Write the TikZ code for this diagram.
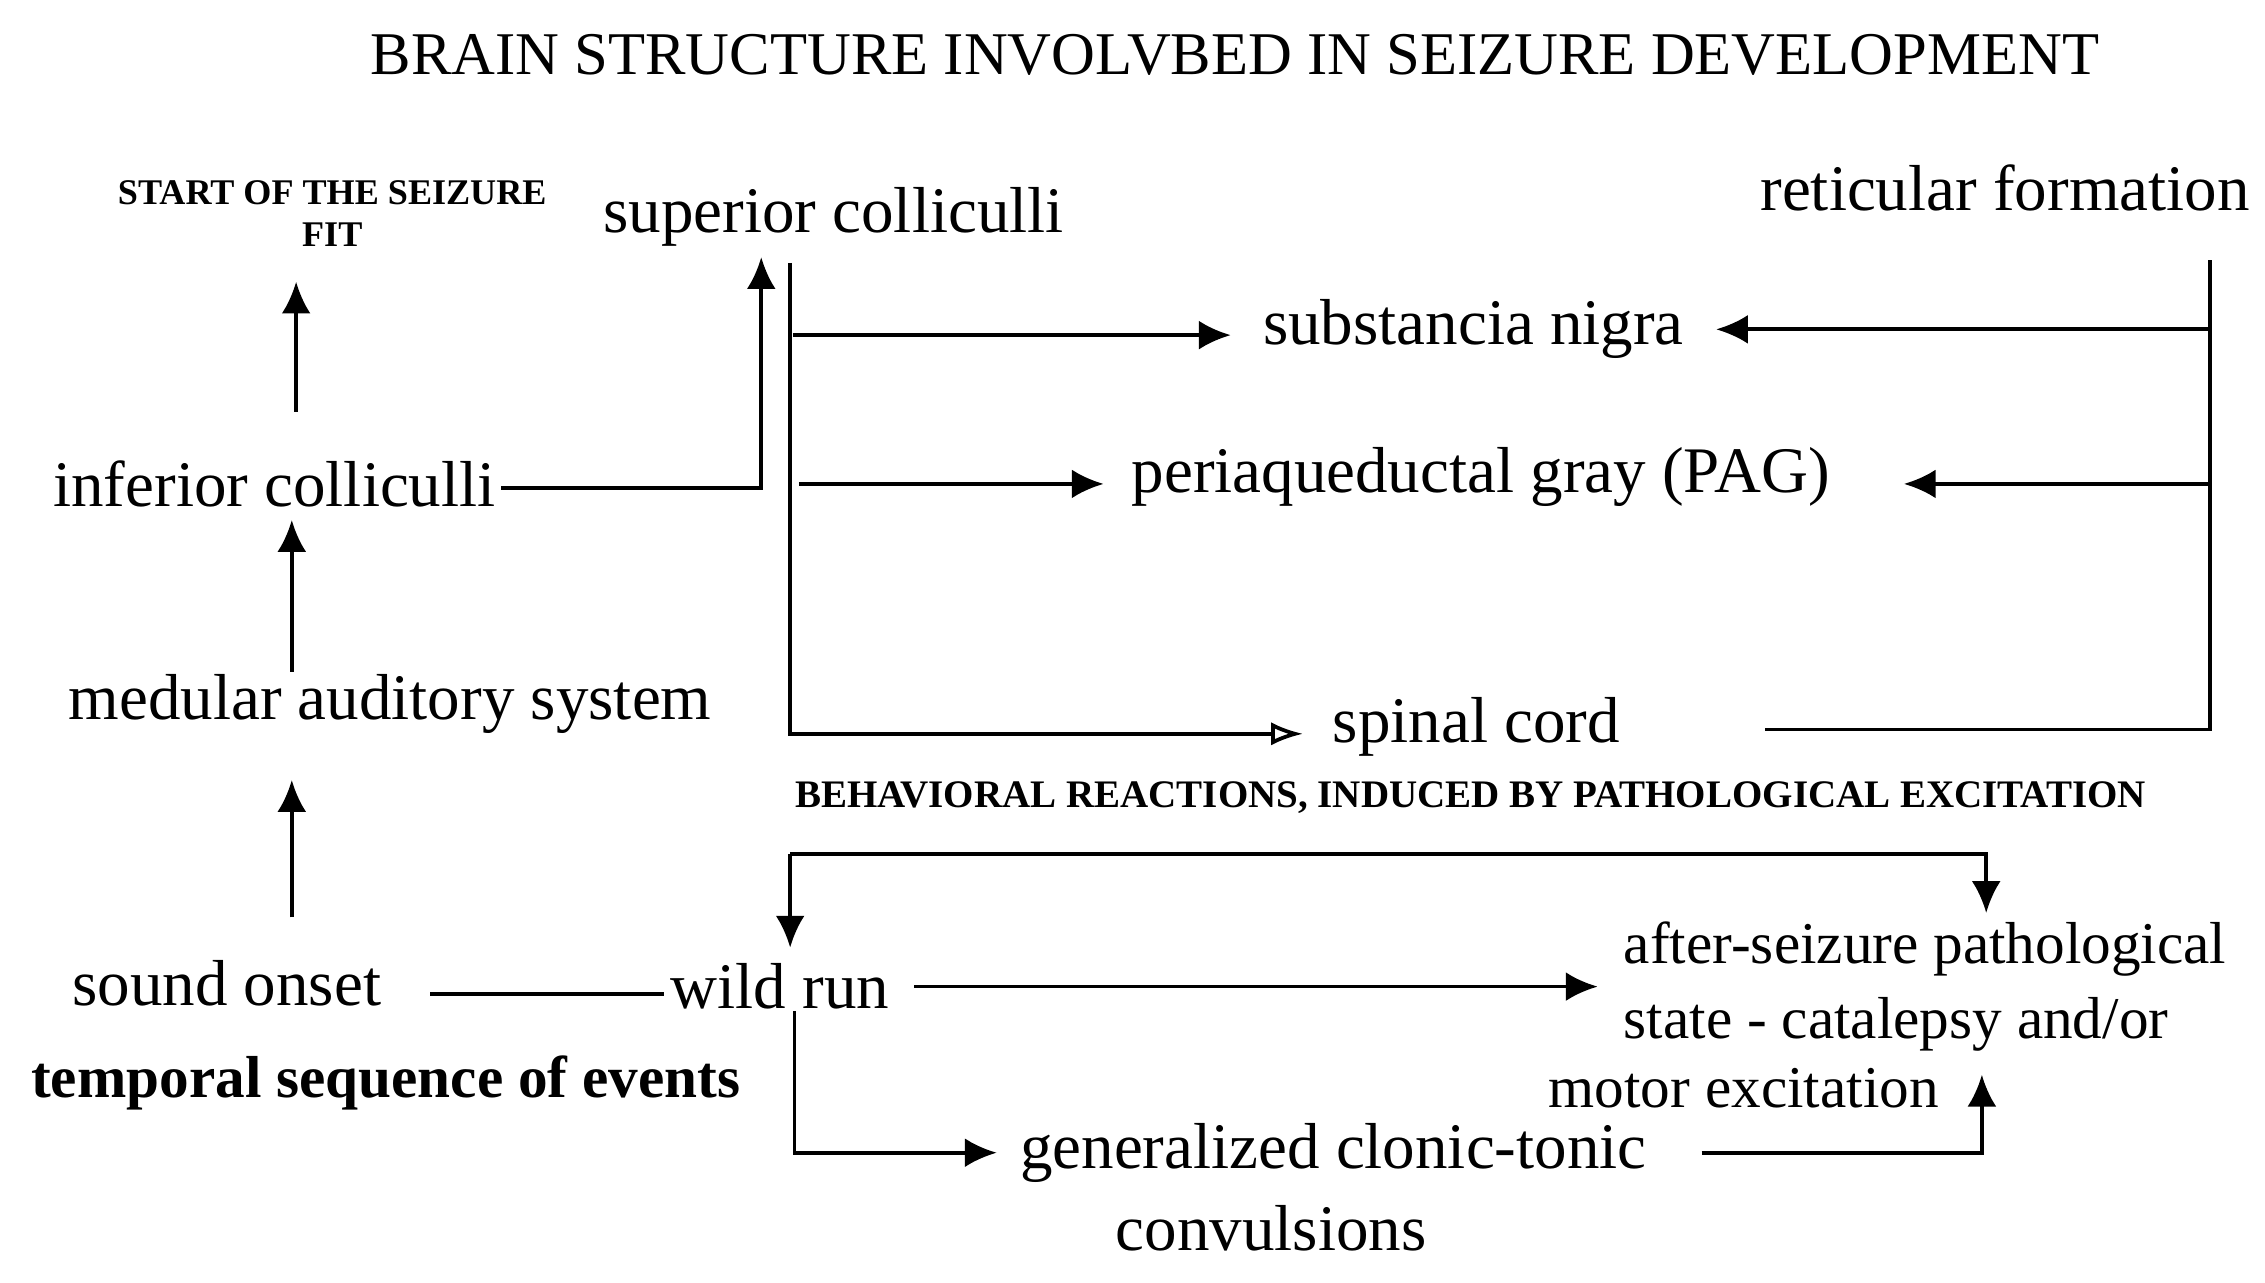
\documentclass[tikz,border=0pt]{standalone}
\usepackage{fontspec}
\setmainfont{Liberation Serif}
\usetikzlibrary{arrows.meta}
\begin{document}
\begin{tikzpicture}[x=1pt,y=-1pt,
  lab/.style={inner sep=0pt,font=\fontsize{45}{50}\selectfont},
  asl/.style={inner sep=0pt,anchor=west,font=\fontsize{41}{45}\selectfont},
  sm/.style={inner sep=0pt,font=\bfseries\fontsize{25}{29}\selectfont},
  ln/.style={line width=2.6pt},
  ar/.style={ln,-{Latex[length=22pt,width=20pt]}},
  oar/.style={ln,-{Latex[open,length=22pt,width=16pt]}}]
\useasboundingbox[fill=white] (0,0) rectangle (1568,888);
\node[lab,font=\fontsize{42}{46}\selectfont] (title) at (855,38) {BRAIN STRUCTURE INVOLVBED IN SEIZURE DEVELOPMENT};
\node[sm,align=center] (start) at (230,148) {START OF THE SEIZURE\\FIT};
\node[lab] (sup) at (577,150) {superior colliculli};
\node[lab] (ret) at (1388,130) {reticular formation};
\node[lab] (sn) at (1020,228) {substancia nigra};
\node[lab] (pag) at (1025,330) {periaqueductal gray (PAG)};
\node[lab] (sc) at (1022,503) {spinal cord};
\node[lab] (inf) at (190,335) {inferior colliculli};
\node[lab] (med) at (270,487) {medular auditory system};
\node[lab] (so) at (157,681) {sound onset};
\node[lab,font=\bfseries\fontsize{41}{45}\selectfont] (tse) at (267,750) {temporal sequence of events};
\node[sm,font=\bfseries\fontsize{27}{30}\selectfont] (beh) at (1018,552) {BEHAVIORAL REACTIONS, INDUCED BY PATHOLOGICAL EXCITATION};
\node[lab] (wr) at (540,683) {wild run};
\node[asl] (as1) at (1124,657) {after-seizure pathological};
\node[asl] (as2) at (1124,709) {state - catalepsy and/or};
\node[asl] (as3) at (1072,753) {motor excitation};
\node[lab] (gc) at (923,798) {generalized clonic-tonic};
\node[lab] (cv) at (880,850) {convulsions};
% left column
\coordinate (a1) at (205,285); \coordinate (a2) at (205,195);
\draw[ar] (a1) -- (a2);
\coordinate (b1) at (202,465); \coordinate (b2) at (202,360);
\draw[ar] (b1) -- (b2);
\coordinate (c1) at (202,635); \coordinate (c2) at (202,540);
\draw[ar] (c1) -- (c2);
\coordinate (i1) at (347,338); \coordinate (i2) at (527,338); \coordinate (i3) at (527,178);
\draw[ar] (i1) -- (i2) -- (i3);
% left bus
\coordinate (v1) at (547,182); \coordinate (v2) at (547,508); \coordinate (v3) at (902,508);
\draw[oar] (v1) -- (v2) -- (v3);
\coordinate (s1) at (549,232); \coordinate (s2) at (852,232);
\draw[ar] (s1) -- (s2);
\coordinate (p1) at (553,335); \coordinate (p2) at (764,335);
\draw[ar] (p1) -- (p2);
% right bus
\coordinate (r1) at (1530,180); \coordinate (r2) at (1530,505); \coordinate (r3) at (1222,505);
\draw[ln] (r1) -- (r2) -- (r3);
\coordinate (r4) at (1530,228); \coordinate (r5) at (1188,228);
\draw[ar] (r4) -- (r5);
\coordinate (r6) at (1530,335); \coordinate (r7) at (1318,335);
\draw[ar] (r6) -- (r7);
% bottom
\coordinate (o1) at (298,688); \coordinate (o2) at (460,688);
\draw[ln] (o1) -- (o2);
\coordinate (t0) at (547,591); \coordinate (t1) at (547,656); \coordinate (t2) at (1375,591); \coordinate (t3) at (1375,632);
\draw[ar] (t0) -- (t1);
\draw[ar] (t0) -- (t2) -- (t3);
\coordinate (w1) at (633,683); \coordinate (w2) at (1106,683);
\draw[ar] (w1) -- (w2);
\coordinate (g1) at (550,700); \coordinate (g2) at (550,798); \coordinate (g3) at (690,798);
\draw[ar] (g1) -- (g2) -- (g3);
\coordinate (h1) at (1178,798); \coordinate (h2) at (1372,798); \coordinate (h3) at (1372,744);
\draw[ar] (h1) -- (h2) -- (h3);
\end{tikzpicture}
\end{document}
